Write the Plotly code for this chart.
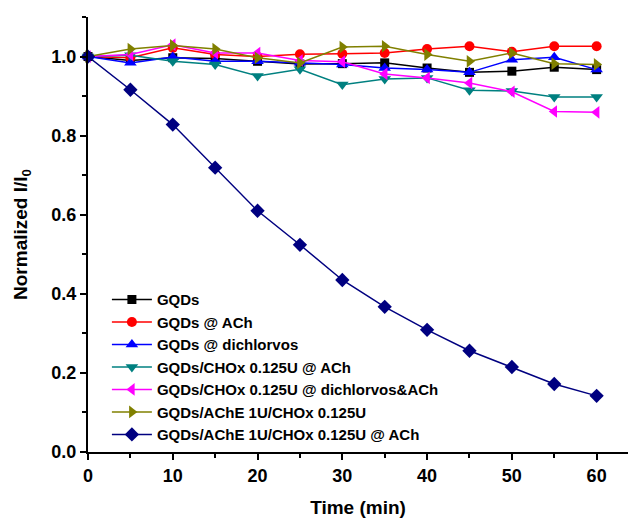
import plotly.graph_objects as go

time = [0, 5, 10, 15, 20, 25, 30, 35, 40, 45, 50, 55, 60]

names = [
    "GQDs",
    "GQDs @ ACh",
    "GQDs @ dichlorvos",
    "GQDs/CHOx 0.125U @ ACh",
    "GQDs/CHOx 0.125U @ dichlorvos&ACh",
    "GQDs/AChE 1U/CHOx 0.125U",
    "GQDs/AChE 1U/CHOx 0.125U @ ACh",
]

gqds = [1.0, 0.99, 0.997, 0.995, 0.988, 0.981, 0.982, 0.984, 0.971, 0.96, 0.963, 0.973, 0.967]
gqds_ach = [1.0, 0.997, 1.022, 1.005, 1.0, 1.006, 1.007, 1.009, 1.019, 1.026, 1.012, 1.026, 1.026]
gqds_dich = [1.0, 0.984, 0.999, 0.988, 0.988, 0.984, 0.98, 0.971, 0.967, 0.96, 0.992, 0.998, 0.967]
gqds_chox_ach = [1.0, 1.003, 0.988, 0.98, 0.951, 0.968, 0.929, 0.943, 0.946, 0.915, 0.913, 0.898, 0.898]
gqds_chox_dich_ach = [1.0, 1.005, 1.03, 1.009, 1.009, 0.99, 0.987, 0.956, 0.946, 0.933, 0.911, 0.861, 0.859]
gqds_ache_chox = [1.0, 1.019, 1.028, 1.019, 0.997, 0.984, 1.024, 1.026, 1.005, 0.988, 1.009, 0.982, 0.98]
gqds_ache_chox_ach = [1.0, 0.916, 0.828, 0.719, 0.61, 0.524, 0.435, 0.367, 0.309, 0.256, 0.215, 0.172, 0.142]

series = [gqds, gqds_ach, gqds_dich, gqds_chox_ach, gqds_chox_dich_ach, gqds_ache_chox, gqds_ache_chox_ach]
colors = ["#000000", "#FF0000", "#0000FF", "#008080", "#FF00FF", "#808000", "#000080"]
symbols = ["square", "circle", "triangle-up", "triangle-down", "triangle-left", "triangle-right", "diamond"]
sizes = [9, 10, 11, 11, 11, 11, 11]

fig = go.Figure()
for n, s, c, sym, sz in zip(names, series, colors, symbols, sizes):
    fig.add_trace(go.Scatter(
        x=time, y=s, name=n, mode="lines+markers",
        line=dict(color=c, width=1.5),
        marker=dict(symbol=sym, size=sz, color=c),
        cliponaxis=False,
    ))

font_family = "Liberation Sans, Arial, sans-serif"
fig.update_layout(
    width=630, height=519,
    margin=dict(l=88, r=2, t=17, b=67),
    plot_bgcolor="white", paper_bgcolor="white",
    font=dict(family=font_family, color="black"),
    showlegend=True,
    legend=dict(
        x=0.035, y=0.388, xanchor="left", yanchor="top",
        bgcolor="rgba(0,0,0,0)",
        font=dict(size=15, family=font_family, weight="bold"),
        itemwidth=40, tracegroupgap=0,
    ),
    xaxis=dict(
        range=[0, 63.7], tickvals=[0, 10, 20, 30, 40, 50, 60],
        showline=True, linecolor="black", linewidth=2,
        ticks="outside", ticklen=6, tickwidth=2, tickcolor="black",
        minor=dict(ticks="outside", ticklen=4, tickwidth=1.5, dtick=5, tickcolor="black"),
        showgrid=False, zeroline=False,
        tickfont=dict(size=18, weight="bold"),
        title=dict(text="Time (min)", font=dict(size=19, weight="bold"), standoff=16),
    ),
    yaxis=dict(
        range=[0, 1.1], tickvals=[0, 0.2, 0.4, 0.6, 0.8, 1.0], tickformat=".1f",
        showline=True, linecolor="black", linewidth=2,
        ticks="outside", ticklen=6, tickwidth=2, tickcolor="black",
        minor=dict(ticks="outside", ticklen=4, tickwidth=1.5, dtick=0.1, tickcolor="black"),
        showgrid=False, zeroline=False,
        tickfont=dict(size=18, weight="bold"),
        title=dict(text="Normalized I/I<sub>0</sub>", font=dict(size=19, weight="bold"), standoff=19),
    ),
)

fig.write_html("out.html")
